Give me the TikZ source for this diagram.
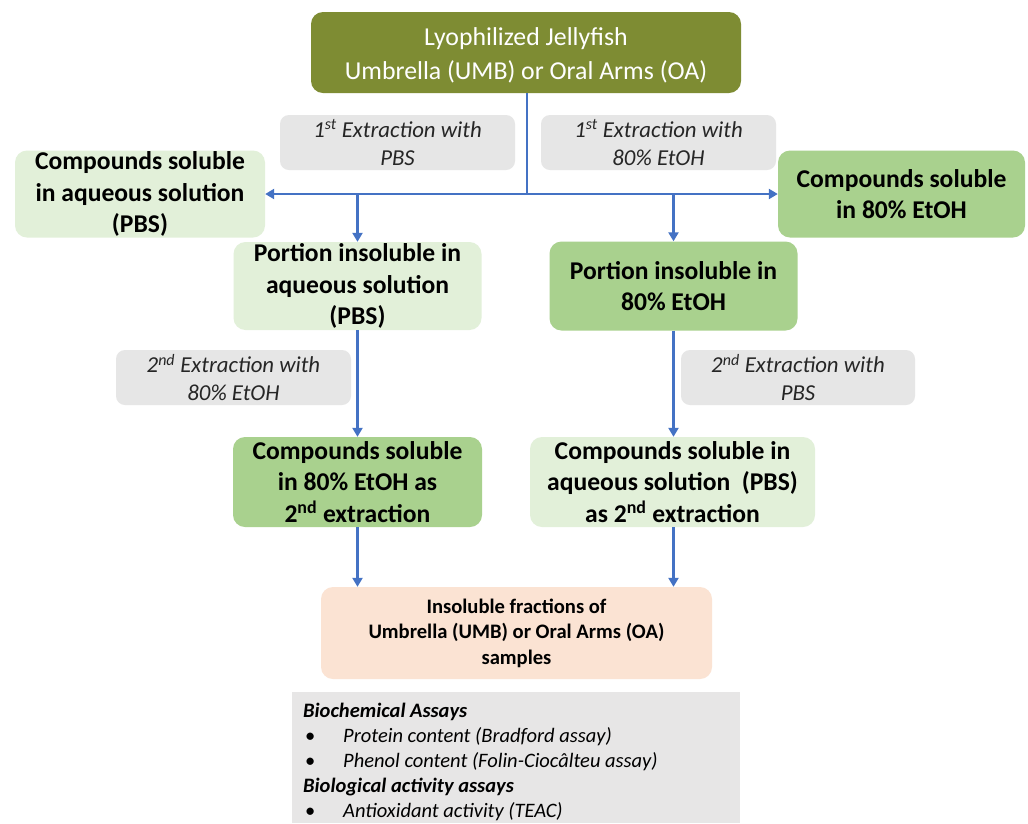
\documentclass[tikz,border=0pt]{standalone}
\usepackage{fontspec}
\setmainfont{Carlito}
\usetikzlibrary{arrows.meta}
\definecolor{olive}{HTML}{7E8C33}
\definecolor{lgreen}{HTML}{E2F0D9}
\definecolor{mgreen}{HTML}{A9D18E}
\definecolor{lgray}{HTML}{E6E6E6}
\definecolor{agray}{HTML}{E7E6E6}
\definecolor{peach}{HTML}{FBE3D3}
\definecolor{flowblue}{HTML}{4472C4}
\tikzset{
  box/.style={rounded corners=12pt, align=center, inner sep=0pt, font=\fontsize{25.6}{31.5}\selectfont\bfseries},
  lbox/.style={box, fill=lgreen},
  mbox/.style={box, fill=mgreen},
  gbox/.style={rounded corners=9pt, fill=lgray, align=center, inner sep=0pt, font=\fontsize{22.8}{28}\selectfont\itshape, text=black!85},
  arr/.style={draw=flowblue, line width=2.3pt, -{Triangle[width=10pt,length=9pt]}},
  ln/.style={draw=flowblue, line width=2.3pt}
}
\begin{document}
\begin{tikzpicture}[x=1pt,y=-1pt]
\useasboundingbox (0,0) rectangle (1028,823);
\fill[white] (0,0) rectangle (1028,823);

\node[box, fill=olive, text=white, font=\fontsize{25.8}{34}\selectfont, minimum width=430pt, minimum height=81pt] (top) at (526,52.5) {\rule{0pt}{24pt}Lyophilized Jellyfish\\Umbrella (UMB) or Oral Arms (OA)};

\node[gbox, minimum width=235pt, minimum height=55pt] (g1) at (397.5,142.5) {1\textsuperscript{st} Extraction with\\PBS};
\node[gbox, minimum width=235pt, minimum height=55pt] (g2) at (658.5,142.5) {1\textsuperscript{st} Extraction with\\80\% EtOH};

\node[lbox, minimum width=250pt, minimum height=87pt] (L1) at (140,194) {Compounds soluble\\in aqueous solution\\(PBS)};
\node[mbox, minimum width=247pt, minimum height=87pt] (R1) at (901.5,194) {Compounds soluble\\in 80\% EtOH};

\node[lbox, minimum width=248pt, minimum height=88pt] (L2) at (357.5,286) {Portion insoluble in\\aqueous solution\\(PBS)};
\node[mbox, minimum width=248pt, minimum height=89pt] (R2) at (673.5,286) {Portion insoluble in\\80\% EtOH};

\node[gbox, minimum width=235pt, minimum height=55pt] (g3) at (233.5,377.5) {2\textsuperscript{nd} Extraction with\\80\% EtOH};
\node[gbox, minimum width=234pt, minimum height=55pt] (g4) at (798,377.5) {2\textsuperscript{nd} Extraction with\\PBS};

\node[mbox, minimum width=249pt, minimum height=90pt] (L3) at (357.5,482) {Compounds soluble\\in 80\% EtOH as\\2\textsuperscript{nd} extraction};
\node[lbox, minimum width=285pt, minimum height=90pt] (R3) at (672.5,482) {Compounds soluble in\\aqueous solution~~(PBS)\\as 2\textsuperscript{nd} extraction};

\node[box, fill=peach, font=\fontsize{20.6}{25.5}\selectfont\bfseries, minimum width=391pt, minimum height=92pt] (B) at (516.5,633) {Insoluble fractions of\\Umbrella (UMB) or Oral Arms (OA)\\samples};

\fill[agray] (292,692) rectangle (740,823);
\node[anchor=north west, align=left, inner sep=0pt, font=\fontsize{20.5}{25}\selectfont\itshape] (A) at (303,703) {%
\textbf{Biochemical Assays}\\
\makebox[40pt][l]{\upshape\hspace{2pt}\textbullet}Protein content (Bradford assay)\\
\makebox[40pt][l]{\upshape\hspace{2pt}\textbullet}Phenol content (Folin-Ciocâlteu assay)\\
\textbf{Biological activity assays}\\
\makebox[40pt][l]{\upshape\hspace{2pt}\textbullet}Antioxidant activity (TEAC)};

\coordinate (j) at (527,194);
\draw[ln] (top.south -| j) -- (j);
\draw[arr] (j) -- (j -| L1.east);
\draw[arr] (j) -- (j -| R1.west);
\draw[arr] (j -| L2.north) -- (L2.north);
\draw[arr] (j -| R2.north) -- (R2.north);
\draw[arr] (L2.south) -- (L3.north);
\draw[arr] (R2.south) -- (R2.south |- R3.north);
\draw[arr] (L3.south) -- (L3.south |- B.north);
\draw[arr] (R3.south -| R2.south) -- (R2.south |- B.north);
\end{tikzpicture}
\end{document}
